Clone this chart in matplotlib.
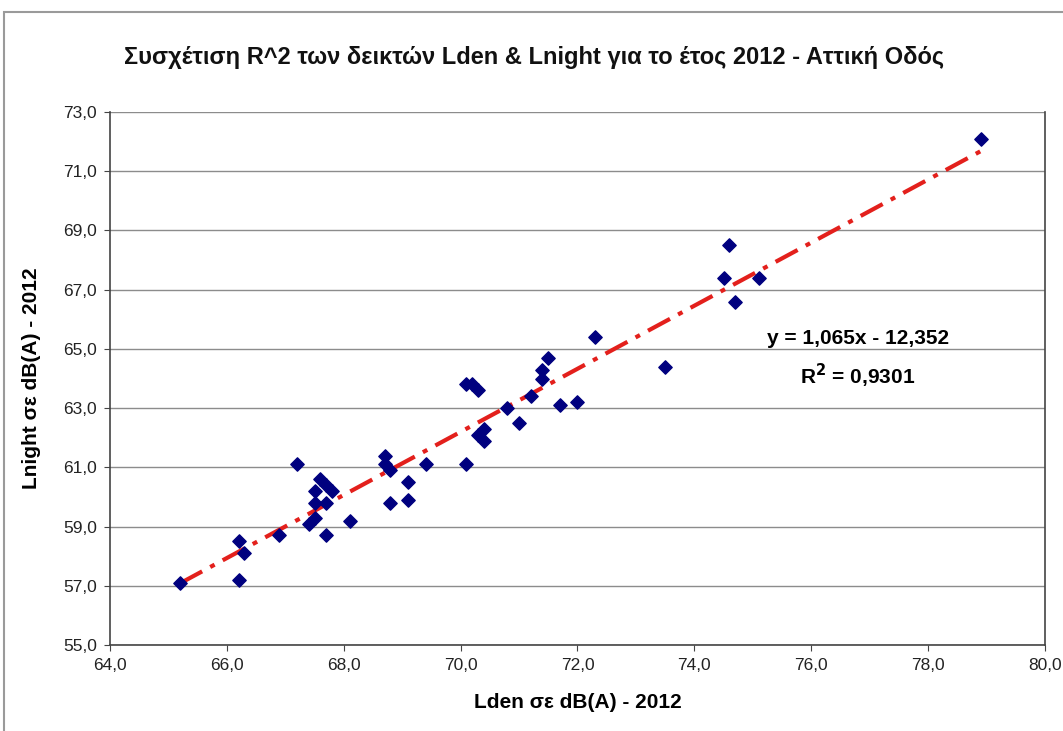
import numpy as np
import matplotlib.pyplot as plt
from matplotlib.ticker import FuncFormatter
from matplotlib.patches import Rectangle

plt.rcParams['font.family'] = ['Liberation Sans', 'DejaVu Sans']

# Lden (x) and Lnight (y) values in dB(A), 2012
lden = [65.2, 66.2, 66.2, 66.3, 66.9, 67.2, 67.4, 67.5, 67.5, 67.5,
        67.6, 67.7, 67.7, 67.7, 67.8, 68.1, 68.7, 68.7, 68.8, 68.8,
        69.1, 69.1, 69.4, 70.1, 70.1, 70.2, 70.3, 70.3, 70.4, 70.4,
        70.8, 71.0, 71.2, 71.4, 71.4, 71.5, 71.7, 72.0, 72.3, 73.5,
        74.5, 74.6, 74.7, 75.1, 78.9]
lnight = [57.1, 58.5, 57.2, 58.1, 58.7, 61.1, 59.1, 59.3, 59.8, 60.2,
          60.6, 58.7, 59.8, 60.4, 60.2, 59.2, 61.4, 61.1, 60.9, 59.8,
          60.5, 59.9, 61.1, 63.8, 61.1, 63.8, 63.6, 62.1, 62.3, 61.9,
          63.0, 62.5, 63.4, 64.3, 64.0, 64.7, 63.1, 63.2, 65.4, 64.4,
          67.4, 68.5, 66.6, 67.4, 72.1]

# linear trendline shown on the chart
slope = 1.065
intercept = -12.352
r2 = 0.9301

fig = plt.figure(figsize=(10.63, 7.31), dpi=100)
ax = fig.add_axes([0.1035, 0.1176, 0.8795, 0.7292])

# outer chart border (Excel style)
fig.patches.append(Rectangle((4 / 1063, -0.05), 1.2, 1 - 12 / 731 + 0.05,
                             transform=fig.transFigure, fill=False,
                             edgecolor='#9a9a9a', linewidth=1.5))

ax.scatter(lden, lnight, marker='D', s=46, color='#00007f', zorder=3)

xs = np.array([min(lden), max(lden)])
ax.plot(xs, slope * xs + intercept, color='#e3201c', linewidth=3,
        linestyle=(0, (6, 2.2, 1.2, 2.2)), zorder=2)

ax.set_xlim(64, 80)
ax.set_ylim(55, 73)
ax.set_xticks(np.arange(64, 80.1, 2))
ax.set_yticks(np.arange(55, 73.1, 2))
fmt = FuncFormatter(lambda v, pos: ('%.1f' % v).replace('.', ','))
ax.xaxis.set_major_formatter(fmt)
ax.yaxis.set_major_formatter(fmt)
ax.tick_params(labelsize=12.5, length=4.5, direction='out', color='#444444',
               labelcolor='#222222', pad=5)

ax.grid(axis='y', color='#8c8c8c', linewidth=1)
ax.set_axisbelow(True)
for s in ['left', 'bottom', 'right']:
    ax.spines[s].set_color('#444444')
    ax.spines[s].set_linewidth(1.2)
ax.spines['top'].set_visible(False)

# title is centred on the whole chart, not on the plot area
fig.text(0.502, 0.922,
         'Συσχέτιση R^2 των δεικτών Lden & Lnight για το έτος 2012 - Αττική Οδός',
         fontsize=17, fontweight='bold', color='#111111', ha='center', va='center')
ax.set_xlabel('Lden σε dB(A) - 2012', fontsize=15, fontweight='bold', labelpad=14)
ax.set_ylabel('Lnight σε dB(A) - 2012', fontsize=15, fontweight='bold', labelpad=16)

eq = 'y = %sx - %s' % (('%.3f' % slope).replace('.', ','),
                       ('%.3f' % -intercept).replace('.', ','))
ax.text(0.80, 0.575, eq, transform=ax.transAxes, fontsize=15,
        fontweight='bold', ha='center', va='center')
ax.text(0.80, 0.505, 'R$^{\\mathbf{2}}$ = ' + ('%.4f' % r2).replace('.', ','),
        transform=ax.transAxes, fontsize=15, fontweight='bold',
        ha='center', va='center')

fig.savefig('out.png', dpi=100)
